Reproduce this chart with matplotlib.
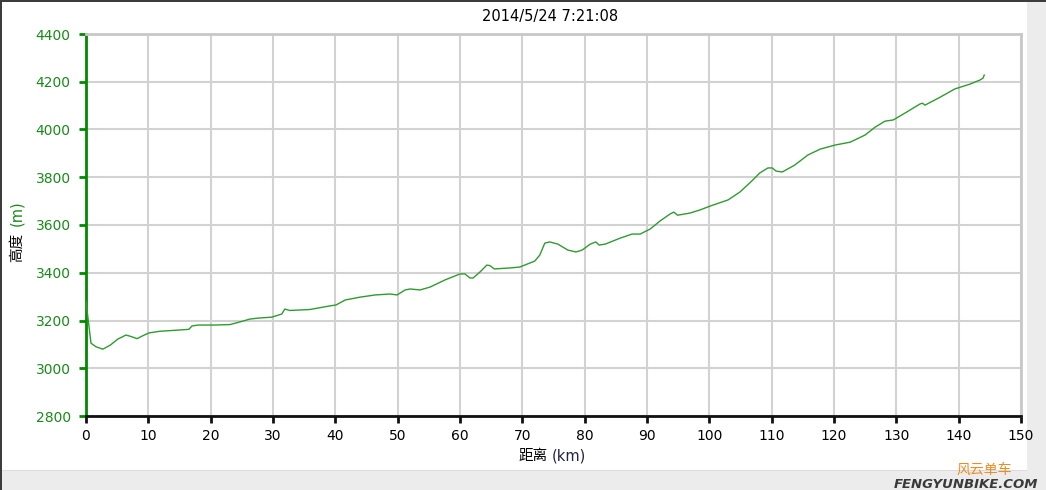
import matplotlib
matplotlib.use("Agg")
import matplotlib.pyplot as plt
from matplotlib.patches import Rectangle
import numpy as np

title = "2014/5/24 7:21:08"
dist_km = [0, 0.8, 1.6, 2.7, 3.9, 5.1, 6.4, 7.1, 8.2, 9.1, 10.1, 11.9, 14.3, 16.5, 17.0,
           18.0, 20.7, 23.1, 24.7, 26.3, 27.6, 29.8, 31.4, 31.9, 32.7, 35.9, 39.1, 40.1,
           41.6, 44.0, 46.4, 48.8, 49.9, 51.2, 52.0, 53.6, 55.2, 57.6, 60.0, 60.8, 61.6,
           62.1, 63.2, 64.3, 64.8, 65.5, 68.0, 69.6, 72.0, 72.8, 73.6, 74.4, 75.7, 77.3,
           78.6, 79.6, 80.9, 81.8, 82.3, 83.3, 85.7, 87.6, 88.9, 90.5, 92.1, 93.7, 94.3,
           94.9, 96.9, 98.5, 100.1, 103.0, 104.9, 106.8, 108.1, 109.4, 110.1, 110.7,
           111.7, 113.7, 115.8, 117.8, 120.2, 122.6, 125.0, 126.6, 128.2, 129.5, 131.4,
           133.8, 134.2, 134.6, 137.0, 139.4, 141.8, 143.4, 143.9, 144.1]
elev_m = [3280, 3105, 3090, 3080, 3097, 3122, 3139, 3134, 3124, 3136, 3148, 3155, 3159,
          3163, 3177, 3181, 3181, 3183, 3194, 3206, 3210, 3214, 3227, 3248, 3242, 3246,
          3261, 3265, 3286, 3298, 3307, 3311, 3307, 3328, 3332, 3328, 3340, 3370, 3395,
          3395, 3378, 3378, 3403, 3432, 3430, 3416, 3420, 3424, 3449, 3474, 3524, 3529,
          3520, 3495, 3487, 3495, 3520, 3529, 3516, 3520, 3545, 3562, 3562, 3583, 3617,
          3646, 3654, 3641, 3650, 3663, 3679, 3705, 3738, 3784, 3818, 3839, 3839, 3826,
          3822, 3851, 3893, 3918, 3935, 3947, 3977, 4010, 4035, 4040, 4069, 4107, 4110,
          4102, 4135, 4170, 4190, 4207, 4215, 4228]
x_ticks = list(range(0, 151, 10))
y_ticks = list(range(2800, 4401, 200))

plt.rcParams['font.family'] = ['DejaVu Sans', 'Noto Sans CJK SC']

fig = plt.figure(figsize=(10.46, 4.90), dpi=100)
fig.patch.set_facecolor('white')

# window chrome
fig.add_artist(Rectangle((0, 0), 1, 20/490, transform=fig.transFigure,
                         facecolor='#ececec', edgecolor='none', zorder=0))
fig.add_artist(Rectangle((0, 19/490), 1, 1/490, transform=fig.transFigure,
                         facecolor='#dcdcdc', edgecolor='none', zorder=0))
fig.add_artist(Rectangle((1027/1046, 0), 19/1046, 1, transform=fig.transFigure,
                         facecolor='#ececec', edgecolor='none', zorder=0))
fig.add_artist(Rectangle((0, 0), 2/1046, 1, transform=fig.transFigure,
                         facecolor='#3c3c3c', edgecolor='none', zorder=1))
fig.add_artist(Rectangle((0, 488/490), 1, 2/490, transform=fig.transFigure,
                         facecolor='#3c3c3c', edgecolor='none', zorder=1))

ax = fig.add_axes([86/1046, 1 - 416/490, (1021 - 86)/1046, (416 - 34)/490])
ax.plot(dist_km, elev_m, color='#2f9b2f', lw=1.0, zorder=3)
ax.set_xlim(0, 150)
ax.set_ylim(2800, 4400)
ax.set_xticks(x_ticks)
ax.set_yticks(y_ticks)
ax.grid(True, color='#d2d2d2', lw=1.5, zorder=0)
ax.set_axisbelow(True)

for s in ['top', 'right']:
    ax.spines[s].set_color('#c8c8c8')
    ax.spines[s].set_linewidth(2)
ax.spines['left'].set_color('#008a00')
ax.spines['left'].set_linewidth(2)
ax.spines['bottom'].set_color('#111111')
ax.spines['bottom'].set_linewidth(2)

ax.tick_params(axis='y', colors='#008a00', labelcolor='#1a8a1a', length=5, width=2,
               labelsize=10, pad=6)
ax.tick_params(axis='x', colors='#111111', labelcolor='black', length=5, width=2,
               labelsize=10, pad=4)

fig.text(550/1046, 1 - 17/490, title, ha='center', va='center', fontsize=10.5, color='black')

# x label
fig.text(548/1046, 1 - 456/490, "距离", ha='right', va='center', fontsize=10.5,
         family=['Noto Sans CJK SC'], color='black')
fig.text(552/1046, 1 - 456/490, "(km)", ha='left', va='center', fontsize=10.5, color='#222244')

# y label (rotated)
fig.text(17/1046, 1 - 247/490, "高度", ha='center', va='center', rotation=90, fontsize=10.5,
         family=['Noto Sans CJK SC'], color='black')
fig.text(17/1046, 1 - 213/490, "(m)", ha='center', va='center', rotation=90, fontsize=10.5,
         color='#1a8a1a')

# watermark
fig.text(1038/1046, 6/490, "FENGYUNBIKE.COM", ha='right', va='center', fontsize=9.5,
         style='italic', weight='bold', color='#3a3a3a')
fig.text(1012/1046, 20/490, "风云单车", ha='right', va='center', fontsize=10,
         family=['Noto Sans CJK SC'], color='#f08a20')

fig.savefig('out.png', dpi=100)
